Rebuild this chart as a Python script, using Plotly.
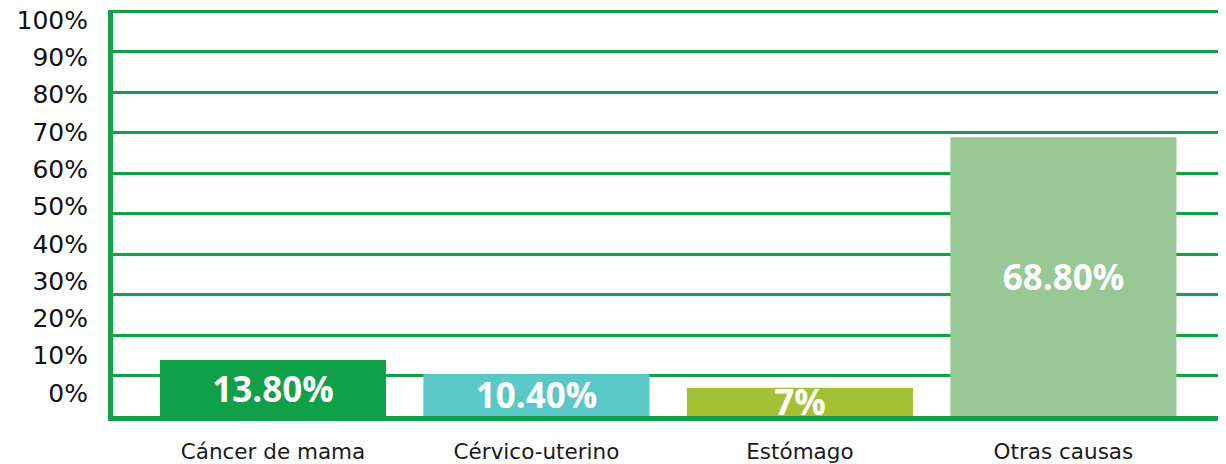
import plotly.graph_objects as go

categories = ["Cáncer de mama", "Cérvico-uterino", "Estómago", "Otras causas"]
values = [13.8, 10.4, 7, 68.8]
bar_labels = ["13.80%", "10.40%", "7%", "68.80%"]
bar_colors = ["#0fa048", "#5bc8c8", "#a4c133", "#97c895"]
tick_values = [0, 10, 20, 30, 40, 50, 60, 70, 80, 90, 100]
tick_labels = ["0%", "10%", "20%", "30%", "40%", "50%", "60%", "70%", "80%", "90%", "100%"]

GREEN = "#13a04a"

fig = go.Figure()
fig.add_trace(go.Bar(
    x=categories, y=values, text=bar_labels,
    marker=dict(color=bar_colors, line=dict(width=0)),
    width=0.858,
    textposition="inside", insidetextanchor="middle", textangle=0,
    textfont=dict(family="Open Sans", size=35, color="white", weight="bold"),
    cliponaxis=False,
    showlegend=False, hoverinfo="skip",
))
# empty trace that anchors the label axis
fig.add_trace(go.Scatter(x=[], y=[], yaxis="y2", showlegend=False, hoverinfo="skip"))

fig.update_layout(
    width=1218, height=456,
    margin=dict(l=105, r=0, t=2, b=48),
    plot_bgcolor="white", paper_bgcolor="white",
    uniformtext=dict(minsize=35, mode="show"),
    xaxis=dict(
        type="category", range=[-0.607, 3.617], automargin=False,
        showline=True, linecolor=GREEN, linewidth=5,
        showgrid=False, ticks="",
        tickfont=dict(family="DejaVu Sans", size=21.5, color="#1a1a1a"),
        ticklabelstandoff=12,
    ),
    yaxis=dict(
        range=[0, 100.25], tickvals=tick_values, showticklabels=False,
        automargin=False,
        showgrid=True, gridcolor=GREEN, gridwidth=2.5,
        showline=True, linecolor=GREEN, linewidth=5,
        zeroline=False, ticks="",
    ),
    yaxis2=dict(
        overlaying="y", side="left", range=[-6.17, 102.68], automargin=False,
        tickvals=tick_values, ticktext=tick_labels,
        showgrid=False, zeroline=False, showline=False, ticks="",
        tickfont=dict(family="DejaVu Sans", size=25, color="#111111"),
        ticklabelstandoff=24, ticklabeloverflow="allow",
    ),
)

fig.write_html("out.html")
